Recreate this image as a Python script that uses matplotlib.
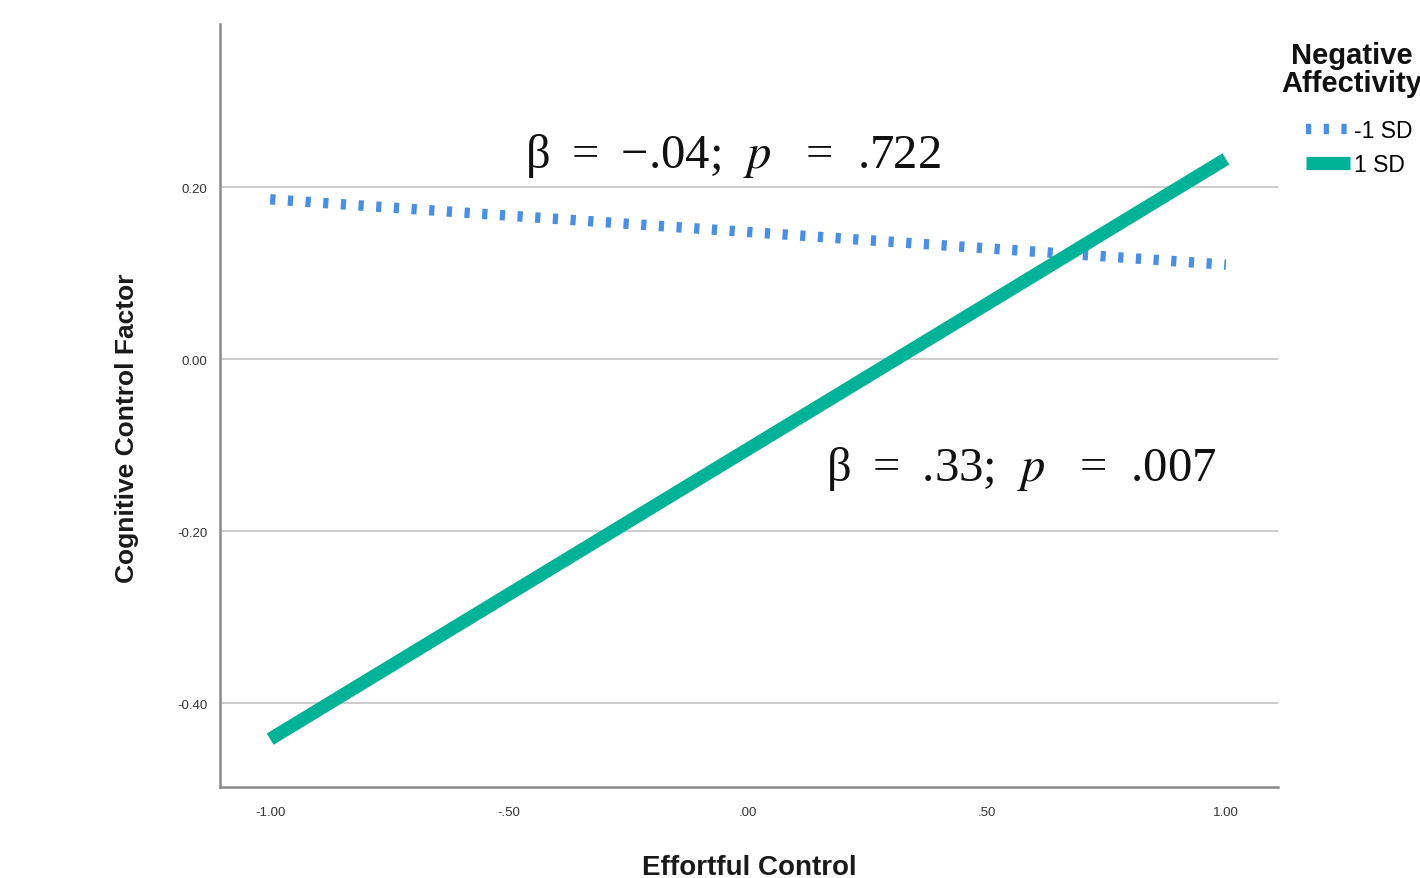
import matplotlib
matplotlib.use("Agg")
import matplotlib.pyplot as plt
from matplotlib.lines import Line2D

# Data
effortful_control = [-1.0, 1.0]
neg_low = [0.186, 0.110]    # -1 SD
neg_high = [-0.442, 0.233]  # 1 SD
series_labels = ["-1 SD", "1 SD"]
legend_title = "Negative\nAffectivity"
x_ticks = [-1.0, -0.5, 0.0, 0.5, 1.0]
x_ticklabels = ["-1.00", "-.50", ".00", ".50", "1.00"]
y_ticks = [-0.4, -0.2, 0.0, 0.2]
y_ticklabels = ["-0.40", "-0.20", "0.00", "0.20"]
annot_low = "β\u2009 = \u2009−.04;  $p$\u2009  =  .722"
annot_high = "β\u2009 = \u2009.33;  $p$\u2009  =  .007"

plt.rcParams['font.family'] = ['Liberation Sans', 'DejaVu Sans']
plt.rcParams['mathtext.fontset'] = 'stix'

fig = plt.figure(figsize=(14.2, 8.79), dpi=100)
ax = fig.add_axes([220/1420, 1-788/879, (1278-220)/1420, (788-25)/879])

blue = '#4a8fe6'
green = '#00b398'
dash = (0, (0.5, 1.2))

ax.plot(effortful_control, neg_low, color=blue, lw=7.5, dash_capstyle='butt',
        linestyle=dash, label=series_labels[0], zorder=3)
ax.plot(effortful_control, neg_high, color=green, lw=9.5, solid_capstyle='butt',
        label=series_labels[1], zorder=4)

ax.set_xlim(-1.105, 1.109)
ax.set_ylim(-0.4977, 0.39)
ax.set_xticks(x_ticks)
ax.set_xticklabels(x_ticklabels)
ax.set_yticks(y_ticks)
ax.set_yticklabels(y_ticklabels)
ax.tick_params(axis='both', length=0, labelsize=9.5, colors='#333333')
ax.tick_params(axis='x', pad=14)
ax.tick_params(axis='y', pad=9)
ax.yaxis.grid(True, color='#c8c8c8', lw=1.3)
ax.set_axisbelow(True)
for s in ['top', 'right']:
    ax.spines[s].set_visible(False)
for s in ['left', 'bottom']:
    ax.spines[s].set_color('#8a8a8a')
    ax.spines[s].set_linewidth(1.8)

ax.set_ylabel("Cognitive Control Factor", fontsize=19, fontweight='bold',
              color='#1a1a1a')
ax.yaxis.set_label_coords(-0.0766, 0.472)
ax.set_xlabel("Effortful Control", fontsize=20, fontweight='bold',
              color='#1a1a1a')
ax.xaxis.set_label_coords(0.5, -0.088)
ax.xaxis.label.set_va('top')

txt_kw = dict(fontsize=35, ha='left', va='center', color='#111111',
              family=['Liberation Serif', 'DejaVu Serif'])
ax.text(-0.467, 0.238, annot_low, **txt_kw)
ax.text(0.163, -0.126, annot_high, **txt_kw)

fig.text(1352/1420, 1-70/879, legend_title, fontsize=21, fontweight='bold',
         ha='center', va='center', linespacing=1.0, color='#111111')
handles = [Line2D([0], [0], color=blue, lw=7.5, linestyle=dash, dash_capstyle='butt'),
           Line2D([0], [0], color=green, lw=9.5, solid_capstyle='butt')]
leg = fig.legend(handles, series_labels, loc='upper left',
                 bbox_to_anchor=(1306/1420, 1-120/879), frameon=False,
                 fontsize=16.5, handlelength=1.9, handletextpad=0.2,
                 labelspacing=0.5, borderaxespad=0, borderpad=0)

fig.savefig("out.png", dpi=100)
